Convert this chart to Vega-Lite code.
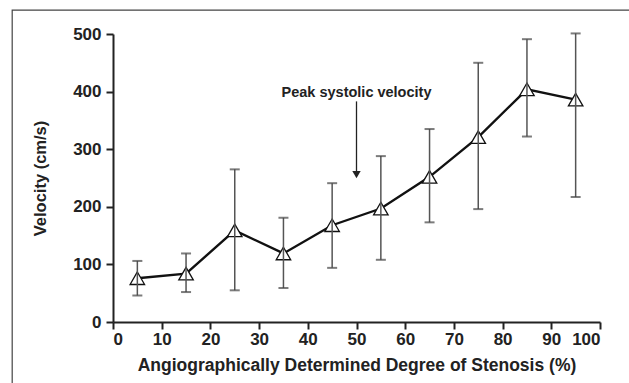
{
  "$schema": "https://vega.github.io/schema/vega-lite/v6.json",
  "width": 487,
  "height": 288,
  "autosize": {"type": "none"},
  "padding": {"left": 113, "top": 34, "right": 29, "bottom": 61},
  "background": "white",
  "config": {
    "view": {"stroke": null},
    "font": "Liberation Sans",
    "axis": {
      "domainColor": "#222",
      "domainWidth": 2,
      "tickColor": "#222",
      "tickWidth": 2,
      "tickSize": 7,
      "grid": false,
      "labelFont": "Liberation Sans",
      "labelFontWeight": "bold",
      "labelFontSize": 17,
      "labelColor": "#222",
      "titleFont": "Liberation Sans",
      "titleFontWeight": "bold",
      "titleColor": "#222"
    }
  },
  "datasets": {
    "pts": [
      {"stenosis": 5, "velocity": 76, "low": 46, "high": 106},
      {"stenosis": 15, "velocity": 84, "low": 52, "high": 119},
      {"stenosis": 25, "velocity": 159, "low": 55, "high": 265},
      {"stenosis": 35, "velocity": 119, "low": 59, "high": 181},
      {"stenosis": 45, "velocity": 168, "low": 94, "high": 241},
      {"stenosis": 55, "velocity": 197, "low": 108, "high": 288},
      {"stenosis": 65, "velocity": 252, "low": 173, "high": 335},
      {"stenosis": 75, "velocity": 321, "low": 196, "high": 450},
      {"stenosis": 85, "velocity": 404, "low": 322, "high": 491},
      {"stenosis": 95, "velocity": 386, "low": 217, "high": 501}
    ],
    "frame": [{"x1": -20.7, "x2": 120, "y1": -130, "y2": 541.5}],
    "arrow": [{"x": 50, "ytop": 383, "ybot": 262, "tip": 256, "label": "Peak systolic velocity", "ylabel": 397}]
  },
  "layer": [
    {
      "data": {"name": "frame"},
      "mark": {"type": "rect", "fill": null, "stroke": "#444", "strokeWidth": 1.2, "clip": false},
      "encoding": {
        "x": {"field": "x1", "type": "quantitative", "scale": {"domain": [0, 100]}},
        "x2": {"field": "x2"},
        "y": {"field": "y1", "type": "quantitative", "scale": {"domain": [0, 500]}},
        "y2": {"field": "y2"}
      }
    },
    {
      "data": {"name": "pts"},
      "mark": {"type": "line", "color": "#111", "strokeWidth": 2.4},
      "encoding": {
        "x": {
          "field": "stenosis", "type": "quantitative",
          "scale": {"domain": [0, 100], "nice": false},
          "axis": {
            "values": [0,5,10,15,20,25,30,35,40,45,50,55,60,65,70,75,80,85,90,95,100],
            "labelExpr": "datum.value % 10 === 0 ? datum.label : ''",
            "title": "Angiographically Determined Degree of Stenosis (%)",
            "titleFontSize": 17.5,
            "titlePadding": 9,
            "labelPadding": 2
          }
        },
        "y": {
          "field": "velocity", "type": "quantitative",
          "scale": {"domain": [0, 500], "nice": false},
          "axis": {
            "values": [0,50,100,150,200,250,300,350,400,450,500],
            "labelExpr": "datum.value % 100 === 0 ? datum.label : ''",
            "title": "Velocity (cm/s)",
            "titleFontSize": 16.5,
            "titlePadding": 24,
            "labelPadding": 5
          }
        }
      }
    },
    {
      "data": {"name": "pts"},
      "mark": {"type": "point", "shape": "triangle-up", "size": 210, "filled": true, "fill": "white", "stroke": "#111", "strokeWidth": 1.3, "opacity": 1},
      "encoding": {
        "x": {"field": "stenosis", "type": "quantitative"},
        "y": {"field": "velocity", "type": "quantitative"}
      }
    },
    {
      "data": {"name": "pts"},
      "mark": {"type": "rule", "color": "#555", "strokeWidth": 1.5},
      "encoding": {
        "x": {"field": "stenosis", "type": "quantitative"},
        "y": {"field": "low", "type": "quantitative"},
        "y2": {"field": "high"}
      }
    },
    {
      "data": {"name": "pts"},
      "mark": {"type": "tick", "orient": "horizontal", "color": "#444", "size": 10, "thickness": 2},
      "encoding": {
        "x": {"field": "stenosis", "type": "quantitative"},
        "y": {"field": "low", "type": "quantitative"}
      }
    },
    {
      "data": {"name": "pts"},
      "mark": {"type": "tick", "orient": "horizontal", "color": "#444", "size": 10, "thickness": 2},
      "encoding": {
        "x": {"field": "stenosis", "type": "quantitative"},
        "y": {"field": "high", "type": "quantitative"}
      }
    },
    {
      "data": {"name": "arrow"},
      "mark": {"type": "rule", "color": "#222", "strokeWidth": 1.3},
      "encoding": {
        "x": {"field": "x", "type": "quantitative"},
        "y": {"field": "ytop", "type": "quantitative"},
        "y2": {"field": "ybot"}
      }
    },
    {
      "data": {"name": "arrow"},
      "mark": {"type": "point", "shape": "triangle-down", "size": 70, "filled": true, "color": "#222", "opacity": 1},
      "encoding": {
        "x": {"field": "x", "type": "quantitative"},
        "y": {"field": "tip", "type": "quantitative"}
      }
    },
    {
      "data": {"name": "arrow"},
      "mark": {"type": "text", "font": "Liberation Sans", "fontWeight": "bold", "fontSize": 14.5, "color": "#222", "align": "center", "baseline": "middle"},
      "encoding": {
        "x": {"field": "x", "type": "quantitative"},
        "y": {"field": "ylabel", "type": "quantitative"},
        "text": {"field": "label"}
      }
    }
  ]
}
